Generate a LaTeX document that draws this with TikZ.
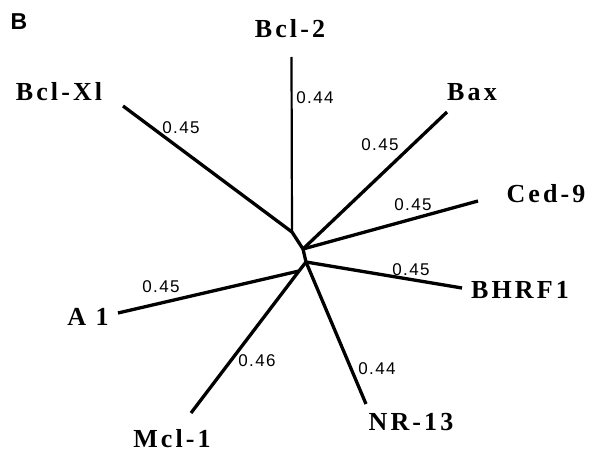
\documentclass[tikz,border=0pt]{standalone}
\usepackage{fontspec}
\newfontfamily\labfont[LetterSpace=12]{Liberation Serif}
\newfontfamily\numfont[LetterSpace=8]{Liberation Sans}
\newfontfamily\panelfont{Liberation Sans}
\begin{document}
\begin{tikzpicture}[x=1pt,y=-1pt,
  branch/.style={line width=3.3pt},
  thinbranch/.style={line width=2.2pt},
  taxon/.style={font=\labfont\bfseries\fontsize{26}{26}\selectfont, inner sep=0pt},
  blen/.style={font=\numfont\fontsize{17}{17}\selectfont, inner sep=0pt},
  panel/.style={font=\panelfont\bfseries\fontsize{23}{23}\selectfont, inner sep=0pt}]
\useasboundingbox (0,0) rectangle (590,452);
% internal nodes
\coordinate (j1) at (292,232);
\coordinate (j2) at (303,249);
\coordinate (j3) at (306,262);
\coordinate (j4) at (299,271);
% leaf ends
\coordinate (eBcl2) at (291.5,57);
\coordinate (eBclXl) at (123,106);
\coordinate (eBax) at (447,112);
\coordinate (eCed) at (478,201);
\coordinate (eBHRF) at (462,288);
\coordinate (eA1) at (118,313);
\coordinate (eMcl) at (191,413);
\coordinate (eNR) at (366,404);
% tree
\draw[branch, line join=round] (j1) -- (j2) -- (j3) -- (j4);
\draw[thinbranch] (j1) -- (eBcl2);
\draw[branch] (j1) -- (eBclXl);
\draw[branch] (j2) -- (eBax);
\draw[branch] (j2) -- (eCed);
\draw[branch] (j3) -- (eBHRF);
\draw[branch] (j3) -- (eNR);
\draw[branch] (j4) -- (eA1);
\draw[branch] (j4) -- (eMcl);
% labels
\node[panel] (B) at (19,22) {B};
\node[taxon] (tBcl2) at (290,29) {Bcl-2};
\node[taxon] (tBclXl) at (59,92) {Bcl-Xl};
\node[taxon] (tBax) at (472,92) {Bax};
\node[taxon] (tCed) at (546,194) {Ced-9};
\node[taxon] (tBHRF) at (520,290) {BHRF1};
\node[taxon] (tA1) at (88,317) {A 1};
\node[taxon] (tMcl) at (172,439) {Mcl-1};
\node[taxon] (tNR) at (411,422) {NR-13};
% branch lengths
\node[blen] (lBcl2) at (315,98) {0.44};
\node[blen] (lBclXl) at (181,128) {0.45};
\node[blen] (lBax) at (380,145) {0.45};
\node[blen] (lCed) at (413,205) {0.45};
\node[blen] (lBHRF) at (411,270) {0.45};
\node[blen] (lA1) at (161,287) {0.45};
\node[blen] (lMcl) at (257,361) {0.46};
\node[blen] (lNR) at (377,369) {0.44};
\end{tikzpicture}
\end{document}
